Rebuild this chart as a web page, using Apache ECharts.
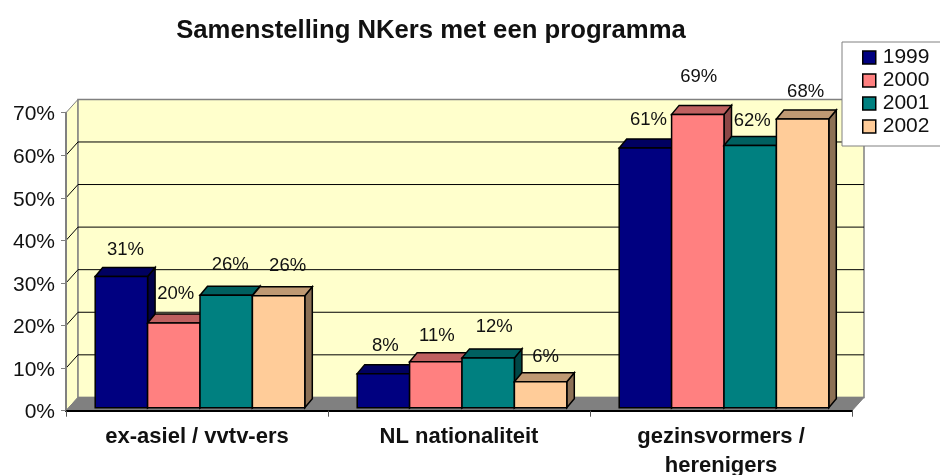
<!DOCTYPE html>
<html>
<head>
<meta charset="utf-8">
<title>Samenstelling NKers</title>
<script src="https://cdn.jsdelivr.net/npm/echarts@6/dist/echarts.min.js"></script>
<style>
html, body { margin: 0; padding: 0; background: #fff; }
#chart { width: 940px; height: 475px; }
</style>
</head>
<body>
<div id="chart"></div>
<script>
const categories = ['ex-asiel / vvtv-ers', 'NL nationaliteit', 'gezinsvormers /\nherenigers'];
const years = ['1999', '2000', '2001', '2002'];
const values1999 = [30.8, 8.0, 61.0];
const values2000 = [19.9, 10.8, 68.9];
const values2001 = [26.4, 11.7, 61.6];
const values2002 = [26.3, 6.1, 67.8];
const yTicks = [0, 10, 20, 30, 40, 50, 60, 70];

const allValues = [values1999, values2000, values2001, values2002];
const fronts = ['#000080', '#FF8080', '#008080', '#FFCC99'];
const tops = ['#000060', '#BF6060', '#006060', '#BF9973'];
const sides = ['#000048', '#8C4747', '#004747', '#8C7055'];

// label tweaks per series and category, the original Excel placed these by hand
const labelDx = [[4, 2, 3], [2, 1, 1], [4, 6, 2], [9, 5, 3]];
const labelDy = [[-27, -28, -28], [-29, -26, -37], [-30, -31, -25], [-30, -25, -27]];

const wallDx = 12, wallDy = -13.3;   // floor depth of the 3D box
const frontDx = 3, frontDy = -3;     // bars stand a bit behind the front edge
const barDx = 7.5, barDy = -9;       // depth of one bar
const fontFamily = '"Liberation Sans", Arial, sans-serif';

function renderWalls(params, api) {
    const v = api.value(0);
    const yFront = api.coord([0, v])[1];
    const children = [];
    const gridLeft = params.coordSys.x;
    const gridRight = params.coordSys.x + params.coordSys.width;
    const yBase = params.coordSys.y + params.coordSys.height;
    const yTop = params.coordSys.y;
    if (v === 0) {
        children.push({
            type: 'polygon',
            shape: { points: [[gridLeft, yBase], [gridLeft, yTop], [gridLeft + wallDx, yTop + wallDy], [gridLeft + wallDx, yBase + wallDy]] },
            style: { fill: '#FFFFCC', stroke: '#808080', lineWidth: 1 }
        });
        children.push({
            type: 'polygon',
            shape: { points: [[gridLeft + wallDx, yTop + wallDy], [gridRight + wallDx, yTop + wallDy], [gridRight + wallDx, yBase + wallDy], [gridLeft + wallDx, yBase + wallDy]] },
            style: { fill: '#FFFFCC', stroke: '#808080', lineWidth: 1.5 }
        });
        children.push({
            type: 'polygon',
            shape: { points: [[gridLeft, yBase], [gridRight, yBase], [gridRight + wallDx, yBase + wallDy], [gridLeft + wallDx, yBase + wallDy]] },
            style: { fill: '#808080', stroke: '#808080', lineWidth: 1 }
        });
    } else if (v < 70) {
        children.push({
            type: 'polyline',
            shape: { points: [[gridLeft, yFront], [gridLeft + wallDx, yFront + wallDy], [gridRight + wallDx, yFront + wallDy]] },
            style: { fill: null, stroke: '#000', lineWidth: 1 }
        });
    }
    return { type: 'group', children: children };
}

function makeBarRenderer(s) {
    return function (params, api) {
        const cat = api.value(0);
        const val = api.value(1);
        const top = api.coord([cat, val]);
        const base = api.coord([cat, 0]);
        const w = api.size([1, 0])[0] * 0.2;
        const x0 = top[0] - 2 * w + s * w + frontDx;
        const x1 = x0 + w;
        const y0 = top[1] + frontDy;
        const y1 = base[1] + frontDy;
        const line = { stroke: '#000', lineWidth: 1.5, lineJoin: 'miter' };
        return {
            type: 'group',
            children: [
                {
                    type: 'polygon',
                    shape: { points: [[x1, y0], [x1 + barDx, y0 + barDy], [x1 + barDx, y1 + barDy], [x1, y1]] },
                    style: Object.assign({ fill: sides[s] }, line)
                },
                {
                    type: 'polygon',
                    shape: { points: [[x0, y0], [x0 + barDx, y0 + barDy], [x1 + barDx, y0 + barDy], [x1, y0]] },
                    style: Object.assign({ fill: tops[s] }, line)
                },
                {
                    type: 'rect',
                    shape: { x: x0, y: y0, width: w, height: y1 - y0 },
                    style: Object.assign({ fill: fronts[s] }, line)
                },
                {
                    type: 'text',
                    z2: 100,
                    style: {
                        text: Math.round(val) + '%',
                        x: x0 + w / 2 + labelDx[s][cat],
                        y: y0 + labelDy[s][cat],
                        align: 'center',
                        verticalAlign: 'middle',
                        font: '18.5px ' + fontFamily,
                        fill: '#111'
                    }
                }
            ]
        };
    };
}

const chart = echarts.init(document.getElementById('chart'));

const barSeries = years.map(function (year, s) {
    return {
        name: year,
        type: 'custom',
        z: 3 + s,
        encode: { x: 0, y: 1 },
        itemStyle: { color: fronts[s] },
        renderItem: makeBarRenderer(s),
        data: allValues[s].map(function (v, i) { return [i, v]; })
    };
});

chart.setOption({
    animation: false,
    backgroundColor: '#fff',
    title: {
        text: 'Samenstelling NKers met een programma',
        left: 426,
        top: 13,
        textAlign: 'center',
        textStyle: { fontFamily: fontFamily, fontWeight: 'bold', fontSize: 25.7, color: '#111' }
    },
    legend: {
        data: years,
        orient: 'vertical',
        left: 842,
        top: 42,
        padding: [5, 20, 9, 20],
        itemGap: 2,
        itemWidth: 13,
        itemHeight: 13,
        icon: 'rect',
        backgroundColor: '#fff',
        borderColor: '#808080',
        borderWidth: 1,
        borderRadius: 0,
        z: 20,
        itemStyle: { borderColor: '#000', borderWidth: 1.5 },
        textStyle: { fontFamily: fontFamily, fontSize: 21, color: '#111', lineHeight: 21, padding: [0, 0, 0, 2] }
    },
    grid: { left: 66, right: 88, top: 112.7, height: 298, outerBoundsMode: 'none' },
    xAxis: {
        type: 'category',
        data: categories,
        z: 10,
        axisLine: { lineStyle: { color: '#000', width: 2 } },
        axisTick: { show: true, alignWithLabel: false, length: 6, lineStyle: { color: '#555', width: 1 } },
        axisLabel: {
            interval: 0,
            margin: 12,
            fontFamily: fontFamily,
            fontWeight: 'bold',
            fontSize: 22,
            lineHeight: 29,
            color: '#111'
        }
    },
    yAxis: {
        type: 'value',
        min: 0,
        max: 70,
        interval: 10,
        z: 10,
        axisLine: { show: true, lineStyle: { color: '#808080', width: 2 } },
        axisTick: { show: true, length: 5, lineStyle: { color: '#808080', width: 1 } },
        splitLine: { show: false },
        axisLabel: {
            margin: 11,
            formatter: function (v) { return '{pct|' + v + '%}'; },
            rich: {
                pct: {
                    fontFamily: fontFamily,
                    fontSize: 21,
                    color: '#111',
                    padding: [4, 0, 0, 0]
                }
            }
        }
    },
    series: [
        {
            name: 'walls',
            type: 'custom',
            silent: true,
            z: 1,
            encode: { y: 0 },
            renderItem: renderWalls,
            data: yTicks.map(function (v) { return [v]; })
        }
    ].concat(barSeries)
});
</script>
</body>
</html>
